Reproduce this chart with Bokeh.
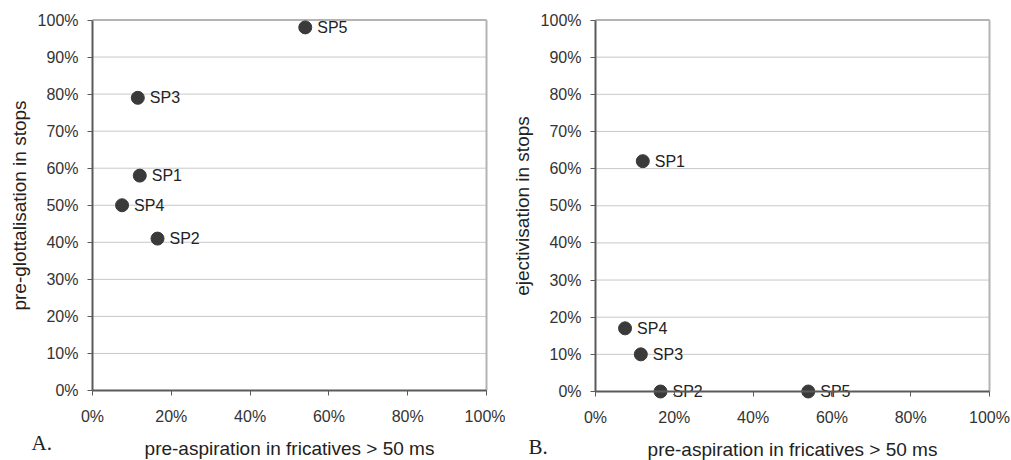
from bokeh.plotting import figure
from bokeh.layouts import row
from bokeh.models import Range1d, NumeralTickFormatter, FixedTicker, Label, ColumnDataSource
from bokeh.core.properties import value
from bokeh.embed import file_html
from bokeh.resources import INLINE

speakers = ["SP1", "SP2", "SP3", "SP4", "SP5"]
pre_aspiration = [0.12, 0.165, 0.115, 0.075, 0.54]
pre_glottalisation = [0.58, 0.41, 0.79, 0.50, 0.98]
ejectivisation = [0.62, 0.0, 0.10, 0.17, 0.0]

x_ticks = [0, 0.2, 0.4, 0.6, 0.8, 1.0]
y_ticks = [0, 0.1, 0.2, 0.3, 0.4, 0.5, 0.6, 0.7, 0.8, 0.9, 1.0]

FONT = "Liberation Sans"
DOT = "#3a3a3a"
AXIS = "#5a5a5a"


def panel(yvals, ylabel, letter, width, x0px, x1px, y1px, y0px, letter_x, letter_y):
    H = 460
    sx = x1px - x0px
    sy = y0px - y1px
    xr = Range1d(-x0px / sx, (width - x0px) / sx)
    yr = Range1d(-(H - y0px) / sy, 1 + y1px / sy)
    p = figure(width=width, height=H, output_backend="svg", toolbar_location=None,
               x_range=xr, y_range=yr, min_border=0)
    p.background_fill_color = "white"
    p.border_fill_color = "white"
    p.outline_line_color = None
    p.xgrid.grid_line_color = None
    p.ygrid.grid_line_color = None

    # horizontal gridlines at the y ticks, spanning the plot area
    p.segment(x0=[0] * len(y_ticks), x1=[1] * len(y_ticks), y0=y_ticks, y1=y_ticks,
              line_color="#c8c8c8", line_width=1)
    # top and right border of the plot area
    p.segment(x0=[0, 1], x1=[1, 1], y0=[1, 0], y1=[1, 1], line_color="#b4b4b4", line_width=2)

    for ax in (p.xaxis[0], p.yaxis[0]):
        ax.fixed_location = 0
        ax.bounds = (0, 1)
        ax.axis_line_color = AXIS
        ax.axis_line_width = 2
        ax.major_tick_line_color = AXIS
        ax.major_tick_line_width = 1
        ax.major_tick_out = 5
        ax.major_tick_in = 0
        ax.minor_tick_line_color = None
        ax.major_label_text_font = FONT
        ax.major_label_text_font_size = "16px"
        ax.major_label_text_color = "#333333"
        ax.axis_label_text_font = FONT
        ax.axis_label_text_font_size = "19px"
        ax.axis_label_text_font_style = "normal"
        ax.axis_label_text_color = "#222222"
        ax.formatter = NumeralTickFormatter(format="0%")
    p.xaxis.ticker = FixedTicker(ticks=x_ticks)
    p.yaxis.ticker = FixedTicker(ticks=y_ticks)
    p.xaxis.axis_label = "pre-aspiration in fricatives > 50 ms"
    p.yaxis.axis_label = ylabel
    p.xaxis.major_label_standoff = 12
    p.xaxis.axis_label_standoff = 10
    p.yaxis.major_label_standoff = 9
    p.yaxis.axis_label_standoff = 5

    src = ColumnDataSource(dict(x=pre_aspiration, y=yvals, t=speakers))
    p.scatter("x", "y", source=src, size=13, fill_color=DOT, line_color=DOT)
    p.text("x", "y", text="t", source=src, x_offset=12, text_baseline="middle",
           text_font=value(FONT), text_font_size="16px", text_color="#222222")

    p.add_layout(Label(x=(letter_x - x0px) / sx, y=(y0px - letter_y) / sy, text=letter,
                       text_font="Liberation Serif", text_font_size="21px",
                       text_color="#222222", text_baseline="middle"))
    return p


left = panel(pre_glottalisation, "pre-glottalisation in stops", "A.", 505,
             92, 486, 19.5, 390, 31, 442)
right = panel(ejectivisation, "ejectivisation in stops", "B.", 506,
              90, 484, 19.5, 391, 23, 446)

open("out.html", "w").write(file_html(row(left, right), INLINE))
